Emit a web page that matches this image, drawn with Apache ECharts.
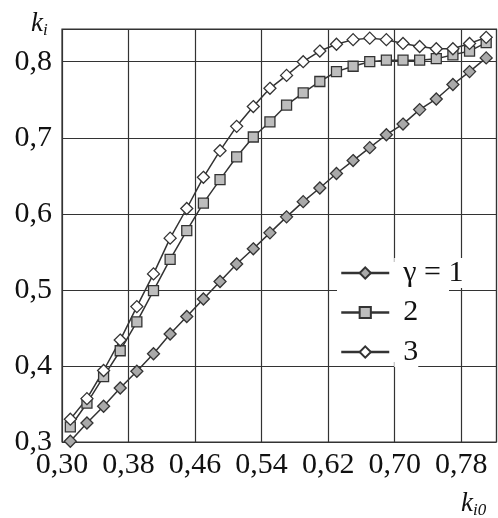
<!DOCTYPE html>
<html>
<head>
<meta charset="utf-8">
<script src="https://cdn.jsdelivr.net/npm/echarts@6/dist/echarts.min.js"></script>
<style>
  html, body { margin: 0; padding: 0; background: #fff; }
  #myChart { width: 498px; height: 518px; }
</style>
</head>
<body>
<div id="myChart"></div>
<script>
// k_i0 values of the points
var kI0 = [0.31, 0.33, 0.35, 0.37, 0.39, 0.41, 0.43, 0.45, 0.47, 0.49, 0.51, 0.53, 0.55,
           0.57, 0.59, 0.61, 0.63, 0.65, 0.67, 0.69, 0.71, 0.73, 0.75, 0.77, 0.79, 0.81];
// gamma = 1
var gamma1 = [0.301, 0.325, 0.347, 0.371, 0.393, 0.416, 0.442, 0.465, 0.488, 0.511, 0.534, 0.554, 0.575,
              0.596, 0.616, 0.634, 0.653, 0.670, 0.687, 0.704, 0.718, 0.737, 0.751, 0.770, 0.787, 0.805];
// gamma = 2
var gamma2 = [0.320, 0.351, 0.386, 0.420, 0.458, 0.499, 0.540, 0.578, 0.614, 0.645, 0.675, 0.701, 0.721,
              0.743, 0.759, 0.774, 0.787, 0.794, 0.800, 0.802, 0.802, 0.802, 0.804, 0.809, 0.814, 0.825];
// gamma = 3
var gamma3 = [0.330, 0.357, 0.394, 0.434, 0.478, 0.521, 0.568, 0.607, 0.648, 0.683, 0.715, 0.741, 0.765,
              0.782, 0.800, 0.814, 0.823, 0.829, 0.831, 0.829, 0.824, 0.820, 0.817, 0.817, 0.824, 0.832];
var legendNames = ['\u03b3 = 1', '2', '3'];

var serif = 'Liberation Serif, Times New Roman, serif';
var ink = '#333';

function pairs(ys) {
  return kI0.map(function (x, i) { return [x, ys[i]]; });
}

function makeSeries(name, ys, symbol, size, fill) {
  return {
    name: name,
    type: 'line',
    data: pairs(ys),
    symbol: symbol,
    symbolSize: size,
    showAllSymbol: true,
    lineStyle: { color: ink, width: 1.5 },
    itemStyle: { color: fill, borderColor: ink, borderWidth: 1.3 },
    emphasis: { disabled: true },
    animation: false
  };
}

var myChart = echarts.init(document.getElementById('myChart'));

var options = {
  backgroundColor: '#fff',
  grid: {
    left: 62, right: 1.5, top: 29, bottom: 76,
    show: true, borderColor: ink, borderWidth: 1.2
  },
  xAxis: {
    type: 'value',
    min: 0.3, max: 0.8224, interval: 0.08,
    axisLine: { show: false },
    axisTick: { show: false },
    splitLine: { lineStyle: { color: ink, width: 1.2 } },
    axisLabel: {
      showMaxLabel: false,
      margin: 8,
      color: '#111',
      fontFamily: serif,
      fontSize: 30,
      formatter: function (v) { return v.toFixed(2).replace('.', ','); }
    }
  },
  yAxis: {
    type: 'value',
    min: 0.3, max: 0.843, interval: 0.1,
    axisLine: { show: false },
    axisTick: { show: false },
    splitLine: { lineStyle: { color: ink, width: 1.2 } },
    axisLabel: {
      showMaxLabel: false,
      margin: 10,
      padding: [0, 0, 6, 0],
      color: '#111',
      fontFamily: serif,
      fontSize: 30,
      formatter: function (v) { return v.toFixed(1).replace('.', ','); }
    }
  },
  legend: {
    orient: 'vertical',
    left: 337, top: 258,
    padding: [0, 0, 0, 3],
    itemGap: 9.5,
    itemWidth: 48,
    itemHeight: 14,
    data: legendNames,
    lineStyle: { width: 2.5 },
    textStyle: {
      color: '#111',
      fontFamily: serif,
      fontSize: 30,
      backgroundColor: '#fff',
      padding: [0, 0, 0, 9]
    }
  },
  graphic: [
    {
      // white patch behind the legend
      type: 'rect', left: 337, top: 262, z: 1, silent: true,
      shape: { width: 112, height: 100 },
      style: { fill: '#fff' }
    },
    {
      type: 'text', left: 31, top: 10,
      style: {
        text: '{k|k}{s|i}',
        rich: {
          k: { fontFamily: serif, fontStyle: 'italic', fontSize: 27, fill: '#111' },
          s: { fontFamily: serif, fontStyle: 'italic', fontSize: 17, fill: '#111', padding: [14, 0, 0, 0] }
        }
      }
    },
    {
      type: 'text', left: 461, top: 490,
      style: {
        text: '{k|k}{s|i0}',
        rich: {
          k: { fontFamily: serif, fontStyle: 'italic', fontSize: 27, fill: '#111' },
          s: { fontFamily: serif, fontStyle: 'italic', fontSize: 17, fill: '#111', padding: [14, 0, 0, 0] }
        }
      }
    }
  ],
  series: [
    makeSeries(legendNames[0], gamma1, 'diamond', 12, '#a9a9a9'),
    makeSeries(legendNames[1], gamma2, 'rect', 10, '#bdbdbd'),
    makeSeries(legendNames[2], gamma3, 'diamond', 12, '#ffffff')
  ]
};

myChart.setOption(options);
</script>
</body>
</html>
